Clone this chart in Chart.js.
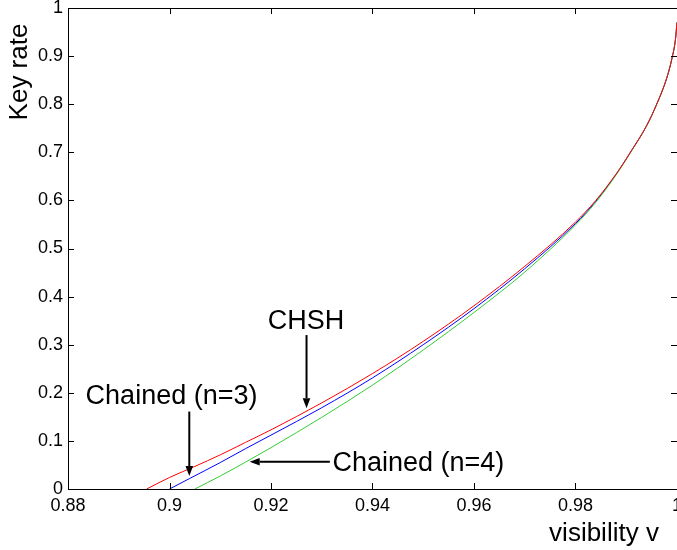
<!DOCTYPE html>
<html>
<head>
<meta charset="utf-8">
<script src="https://cdn.jsdelivr.net/npm/chart.js@4.4.1/dist/chart.umd.min.js"></script>
<style>
    html, body { margin: 0; padding: 0; background: #fff; width: 677px; height: 550px; overflow: hidden; }
    canvas { display: block; }
</style>
</head>
<body>
<canvas id="keyRateChart" width="700" height="550"></canvas>
<script>
// Visibility / key rate values
const chshV    = [0.8955, 0.900, 0.905, 0.910, 0.915, 0.920, 0.930, 0.940, 0.950, 0.960, 0.970, 0.980, 0.984, 0.988, 0.991, 0.994, 0.996, 0.998, 0.999, 0.9997, 1.000];
const chshRate = [0,      0.024, 0.047, 0.071, 0.097, 0.123, 0.179, 0.240, 0.307, 0.381, 0.463, 0.555, 0.600, 0.655, 0.703, 0.755, 0.800, 0.855, 0.895, 0.935, 0.970];

const n3V    = [0.900, 0.904, 0.910, 0.915, 0.920, 0.930, 0.940, 0.950, 0.960, 0.970, 0.980, 0.984, 0.988, 0.991, 0.994, 0.996, 0.998, 0.999, 0.9997, 1.000];
const n3Rate = [0,     0.022, 0.055, 0.084, 0.112, 0.169, 0.231, 0.300, 0.375, 0.458, 0.552, 0.598, 0.654, 0.703, 0.755, 0.800, 0.855, 0.895, 0.935, 0.970];

const n4V    = [0.905, 0.910, 0.915, 0.920, 0.930, 0.940, 0.950, 0.960, 0.970, 0.980, 0.984, 0.988, 0.991, 0.994, 0.996, 0.998, 0.999, 0.9997, 1.000];
const n4Rate = [0,     0.027, 0.056, 0.086, 0.149, 0.216, 0.289, 0.367, 0.451, 0.549, 0.596, 0.653, 0.702, 0.755, 0.800, 0.855, 0.895, 0.935, 0.970];

const xTicks = [0.88, 0.90, 0.92, 0.94, 0.96, 0.98, 1.0];
const yTicks = [0, 0.1, 0.2, 0.3, 0.4, 0.5, 0.6, 0.7, 0.8, 0.9, 1];

// Text labels with arrows, positioned in data coordinates
const notes = [
    { text: 'CHSH',          x: 0.9269, y: 0.332, align: 'center', from: [0.927, 0.320],  to: [0.927, 0.168] },
    { text: 'Chained (n=3)', x: 0.9004, y: 0.1757, align: 'center', from: [0.9039, 0.161], to: [0.9039, 0.027] },
    { text: 'Chained (n=4)', x: 0.9321, y: 0.0366, align: 'left',  from: [0.9316, 0.0568], to: [0.9158, 0.0568] }
];

const FONT = '"Liberation Sans", Arial, Helvetica, sans-serif';

function toPoints(xs, ys) {
    return xs.map((x, i) => ({ x: x, y: ys[i] }));
}

function drawArrow(ctx, x1, y1, x2, y2) {
    const ang = Math.atan2(y2 - y1, x2 - x1);
    const headLen = 10, headHalf = 3.8;
    const bx = x2 - headLen * Math.cos(ang), by = y2 - headLen * Math.sin(ang);
    ctx.beginPath();
    ctx.moveTo(x1, y1);
    ctx.lineTo(bx, by);
    ctx.lineWidth = 2;
    ctx.strokeStyle = '#000';
    ctx.stroke();
    ctx.beginPath();
    ctx.moveTo(x2, y2);
    ctx.lineTo(bx + headHalf * Math.sin(ang), by - headHalf * Math.cos(ang));
    ctx.lineTo(bx - headHalf * Math.sin(ang), by + headHalf * Math.cos(ang));
    ctx.closePath();
    ctx.fillStyle = '#000';
    ctx.fill();
}

// Box frame, inward ticks, axis titles and annotations
const framePlugin = {
    id: 'frame',
    afterDatasetsDraw(chart) {
        const ctx = chart.ctx;
        const a = chart.chartArea;
        const xs = chart.scales.x, ys = chart.scales.y;
        const tl = 6;
        ctx.save();
        ctx.strokeStyle = '#000';
        ctx.lineWidth = 1;
        ctx.beginPath();
        ctx.rect(Math.round(a.left) + 0.5, Math.round(a.top) + 0.5, Math.round(a.right - a.left), Math.round(a.bottom - a.top));
        xTicks.forEach(v => {
            const px = Math.round(xs.getPixelForValue(v)) + 0.5;
            ctx.moveTo(px, a.bottom); ctx.lineTo(px, a.bottom - tl);
            ctx.moveTo(px, a.top); ctx.lineTo(px, a.top + tl);
        });
        yTicks.forEach(v => {
            const py = Math.round(ys.getPixelForValue(v)) + 0.5;
            ctx.moveTo(a.left, py); ctx.lineTo(a.left + tl, py);
            ctx.moveTo(a.right, py); ctx.lineTo(a.right - tl, py);
        });
        ctx.stroke();

        // axis titles
        ctx.fillStyle = '#000';
        ctx.font = '26px ' + FONT;
        ctx.textAlign = 'center';
        ctx.textBaseline = 'alphabetic';
        ctx.fillText('visibility v', 604, 541);
        ctx.save();
        ctx.translate(27, 72);
        ctx.rotate(-Math.PI / 2);
        ctx.fillText('Key rate', 0, 0);
        ctx.restore();

        // annotations
        ctx.font = '27px ' + FONT;
        notes.forEach(n => {
            ctx.textAlign = n.align;
            ctx.fillStyle = '#000';
            ctx.fillText(n.text, xs.getPixelForValue(n.x), ys.getPixelForValue(n.y));
            drawArrow(ctx,
                xs.getPixelForValue(n.from[0]), ys.getPixelForValue(n.from[1]),
                xs.getPixelForValue(n.to[0]), ys.getPixelForValue(n.to[1]));
        });
        ctx.restore();
    }
};

const lineStyle = { borderWidth: 1, pointRadius: 0, fill: false, cubicInterpolationMode: 'monotone' };

new Chart(document.getElementById('keyRateChart').getContext('2d'), {
    type: 'line',
    data: {
        // first dataset is drawn on top
        datasets: [
            Object.assign({ label: 'CHSH', data: toPoints(chshV, chshRate), borderColor: '#ff0000' }, lineStyle),
            Object.assign({ label: 'Chained (n=4)', data: toPoints(n4V, n4Rate), borderColor: '#33cc33' }, lineStyle),
            Object.assign({ label: 'Chained (n=3)', data: toPoints(n3V, n3Rate), borderColor: '#0000ff' }, lineStyle)
        ]
    },
    options: {
        responsive: false,
        animation: false,
        events: [],
        layout: { padding: { left: 0, right: 23, top: 8, bottom: 0 } },
        plugins: {
            legend: { display: false },
            tooltip: { enabled: false }
        },
        scales: {
            x: {
                type: 'linear',
                min: 0.88,
                max: 1.0,
                grid: { display: false, drawTicks: false },
                border: { display: false },
                afterBuildTicks: s => { s.ticks = xTicks.map(v => ({ value: v })); },
                afterFit: s => { s.height = 61; s.paddingLeft = 0; s.paddingRight = 0; },
                ticks: {
                    autoSkip: false,
                    maxRotation: 0,
                    padding: 6,
                    color: '#000',
                    font: { family: FONT, size: 18 },
                    callback: v => String(v)
                }
            },
            y: {
                type: 'linear',
                min: 0,
                max: 1,
                grid: { display: false, drawTicks: false },
                border: { display: false },
                afterBuildTicks: s => { s.ticks = yTicks.map(v => ({ value: v })); },
                afterFit: s => { s.width = 68; s.paddingTop = 0; s.paddingBottom = 0; },
                ticks: {
                    autoSkip: false,
                    padding: 5,
                    color: '#000',
                    font: { family: FONT, size: 18 },
                    callback: v => String(v)
                }
            }
        }
    },
    plugins: [framePlugin]
});
</script>
</body>
</html>
